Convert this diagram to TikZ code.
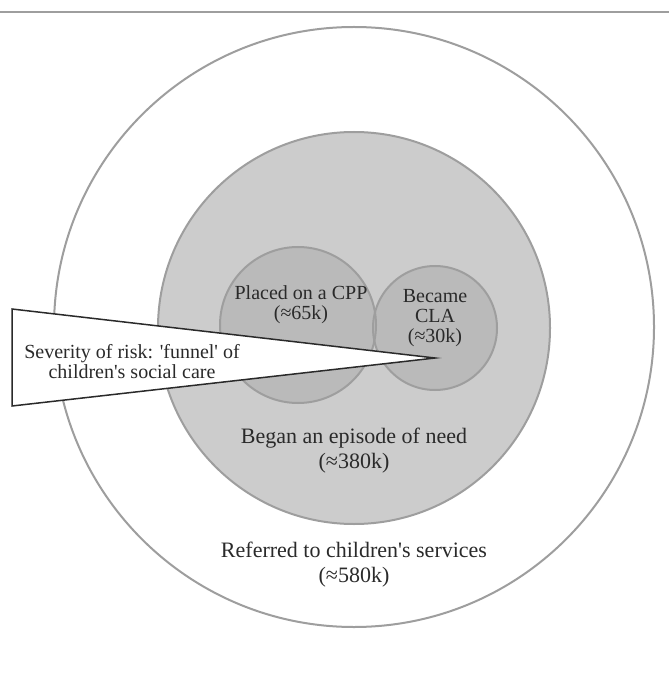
\documentclass[tikz,border=0pt]{standalone}
\usepackage{fontspec}
\setmainfont[Ligatures=TeXOff]{Liberation Serif}
\definecolor{rimgray}{HTML}{9E9E9E}
\definecolor{needgray}{HTML}{CCCCCC}
\definecolor{innergray}{HTML}{BABABA}
\definecolor{inkgray}{HTML}{2A2A2A}
\tikzset{
  ring/.style={draw=rimgray, line width=2pt},
  smalltext/.style={align=center, text=inkgray, font=\fontsize{20}{20}\selectfont, inner sep=0pt},
  bigtext/.style={align=center, text=inkgray, font=\fontsize{22}{25}\selectfont, inner sep=0pt}
}
\begin{document}
\begin{tikzpicture}[x=1pt,y=-1pt]
\useasboundingbox (0,0) rectangle (669,684);
\draw[rimgray, line width=1.5pt] (0,12)--(669,12);
% nested circles
\draw[ring, fill=white] (354,327) circle (300);
\draw[ring, fill=needgray] (354,328) circle (196);
\fill[innergray] (298,325) circle (78);
\fill[innergray] (435,328) circle (62);
\draw[ring] (298,325) circle (78);
\draw[ring] (435,328) circle (62);
% funnel
\coordinate (tip) at (435,358);
\draw[inkgray, line width=1.5pt, fill=white] (12,309)--(tip)--(12,406)--cycle;
\node[smalltext] (sev) at (132,362) {Severity of risk: 'funnel' of\\children's social care};
\node[smalltext] (cpp) at (301,305) {Placed on a CPP\\(≈65k)};
\node[smalltext] (cla) at (435,318) {Became\\CLA\\(≈30k)};
\node[bigtext] (need) at (354,451) {Began an episode of need\\(≈380k)};
\node[bigtext] (ref) at (354,565) {Referred to children's services\\(≈580k)};
\end{tikzpicture}
\end{document}
